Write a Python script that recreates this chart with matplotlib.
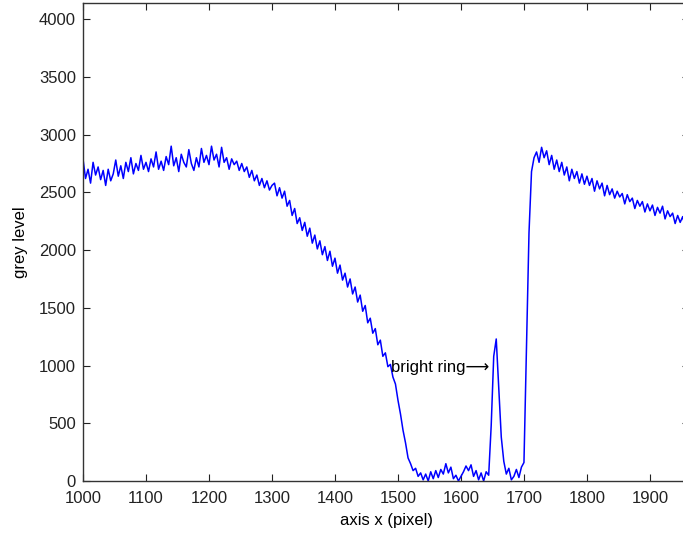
import numpy as np
import matplotlib
matplotlib.use("Agg")
import matplotlib.pyplot as plt

plt.rcParams['font.family'] = ['Liberation Sans', 'DejaVu Sans']

# profil de niveaux de gris, un point tous les 4 pixels
x_start = 1000
x_step = 4
grey = [
    2790, 2620, 2700, 2580, 2760, 2650, 2720, 2610, 2690, 2560,
    2700, 2600, 2660, 2780, 2640, 2730, 2620, 2760, 2680, 2800,
    2660, 2750, 2690, 2820, 2700, 2760, 2680, 2790, 2720, 2850,
    2700, 2770, 2690, 2810, 2740, 2900, 2730, 2800, 2680, 2830,
    2760, 2720, 2870, 2750, 2690, 2800, 2720, 2880, 2760, 2820,
    2740, 2900, 2780, 2830, 2720, 2890, 2760, 2800, 2700, 2790,
    2740, 2770, 2690, 2750, 2680, 2720, 2630, 2690, 2600, 2650,
    2560, 2620, 2540, 2600, 2520, 2560, 2580, 2470, 2540, 2450,
    2510, 2380, 2430, 2300, 2360, 2230, 2280, 2170, 2240, 2120,
    2190, 2060, 2130, 2010, 2080, 1960, 2030, 1910, 1990, 1860,
    1930, 1800, 1870, 1740, 1800, 1680, 1750, 1620, 1680, 1550,
    1610, 1470, 1520, 1370, 1410, 1280, 1320, 1180, 1220, 1080,
    1110, 990, 1010, 900, 840, 700, 580, 440, 330, 200,
    150, 90, 110, 40, 70, 10, 60, 0, 80, 20,
    90, 30, 100, 60, 150, 70, 120, 20, 50, 0,
    40, 80, 130, 90, 140, 40, 90, 10, 70, 0,
    80, 50, 480, 1080, 1230, 800, 380, 170, 60, 110,
    10, 40, 100, 30, 120, 160, 1150, 2150, 2680, 2800,
    2850, 2760, 2890, 2800, 2860, 2740, 2820, 2700, 2780, 2680,
    2760, 2650, 2720, 2600, 2700, 2620, 2680, 2580, 2660, 2570,
    2640, 2560, 2620, 2510, 2600, 2530, 2580, 2470, 2560, 2480,
    2530, 2450, 2510, 2460, 2490, 2400, 2480, 2420, 2450, 2360,
    2430, 2380, 2420, 2330, 2400, 2340, 2390, 2300, 2370, 2320,
    2380, 2270, 2340, 2290, 2320, 2230, 2300, 2240, 2290, 2200,
    2260,
]
assert len(grey) == 241

x_ticks = [1000, 1100, 1200, 1300, 1400, 1500, 1600, 1700, 1800, 1900]
y_ticks = [0, 500, 1000, 1500, 2000, 2500, 3000, 3500, 4000]

x = x_start + x_step * np.arange(len(grey))

fig = plt.figure(figsize=(6.83, 5.35), dpi=100)
ax = fig.add_axes([83 / 683, 54 / 535, 606 / 683, 478 / 535])
ax.plot(x, grey, color=(0, 0, 1), lw=1.1)

# fleche longue : Liberation n'a pas le glyphe, DejaVu prend le relais
ax.text(1489, 987, "bright ring\u27f6", ha='left', va='center', fontsize=12)

ax.set_xlim(1000, 1962)
ax.set_ylim(0, 4140)
ax.set_xticks(x_ticks)
ax.set_yticks(y_ticks)
ax.tick_params(direction='in', length=5, top=True, right=True,
               labelsize=12, colors='#222222')
ax.tick_params(axis='x', pad=7)
ax.tick_params(axis='y', pad=5)
for s in ax.spines.values():
    s.set_color('#333333')
    s.set_linewidth(1.0)

ax.set_xlabel("axis x (pixel)", fontsize=12, labelpad=5)
ax.set_ylabel("grey level", fontsize=12, labelpad=8)

fig.savefig("out.png", dpi=100)
